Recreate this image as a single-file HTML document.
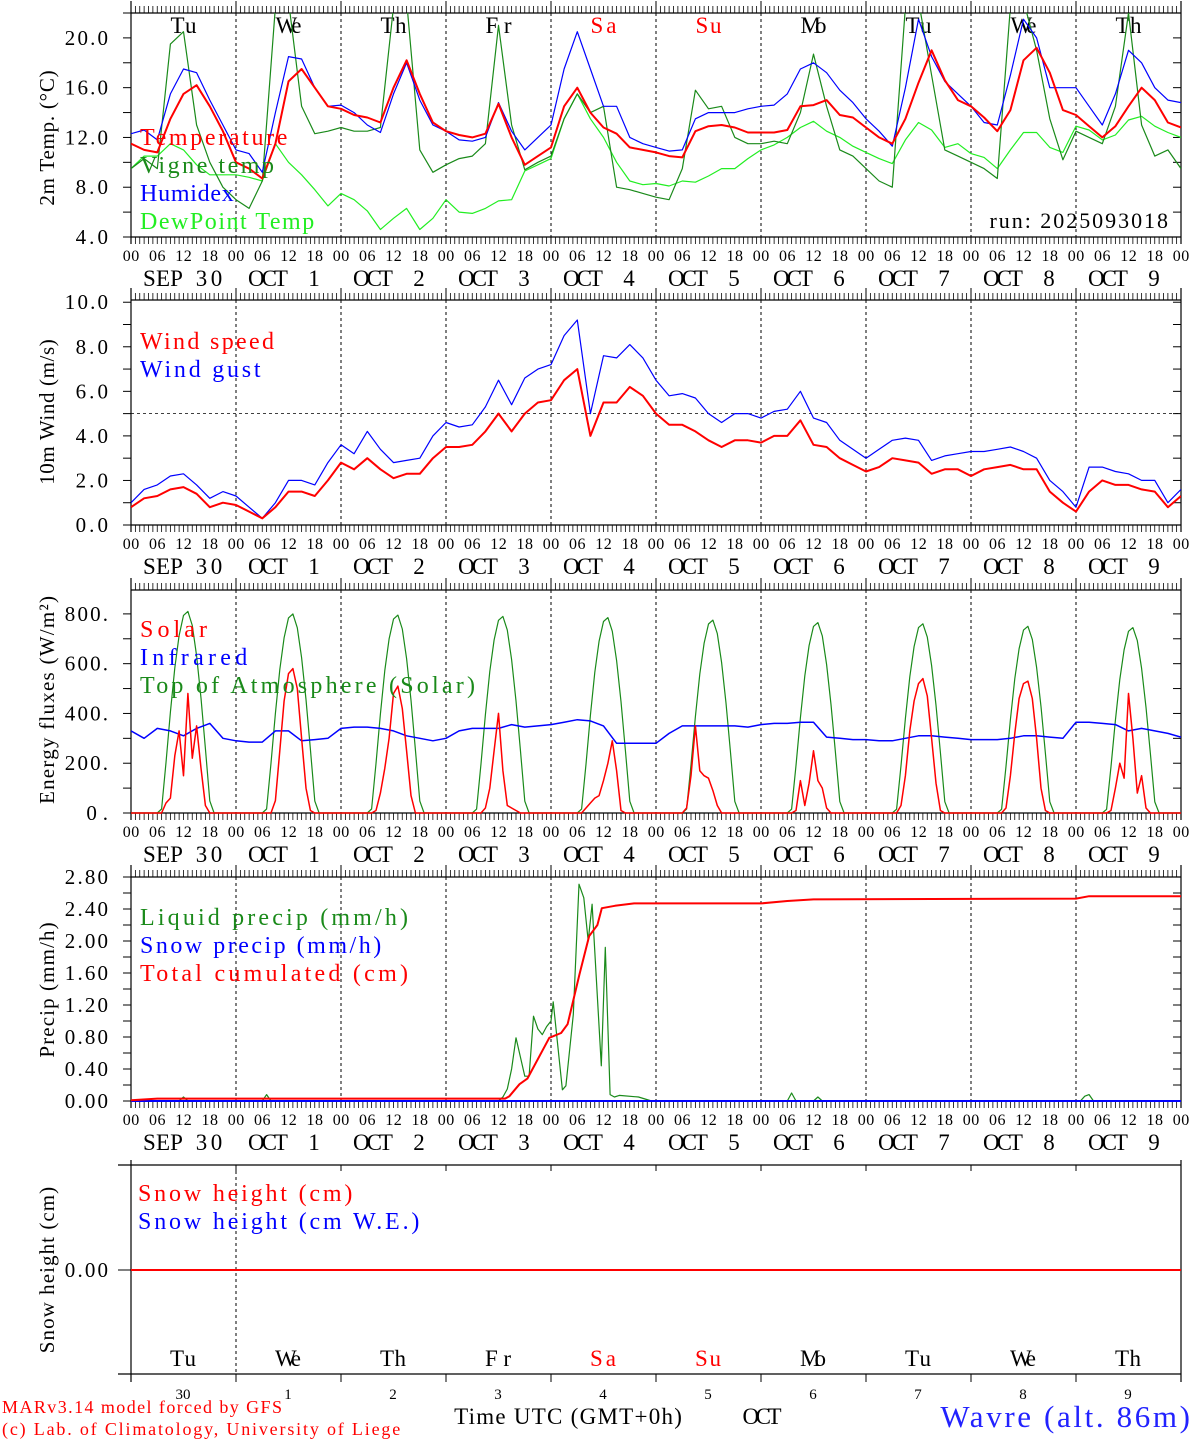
<!DOCTYPE html>
<html><head><meta charset="utf-8">
<style>
html,body{margin:0;padding:0;background:#fff;}
svg{display:block;font-family:"Liberation Serif",serif;}
</style></head>
<body>
<svg id="chart" width="1194" height="1440" viewBox="0 0 1194 1440" xmlns="http://www.w3.org/2000/svg"></svg>
<script>
// ---------- DATA (3-hourly, hour 0..240) ----------
const dayNames = ["Tu","We","Th","Fr","Sa","Su","Mo","Tu","We","Th"];
const dayNums = ["30","1","2","3","4","5","6","7","8","9"];
const dayMonths = ["SEP","OCT","OCT","OCT","OCT","OCT","OCT","OCT","OCT","OCT"];
const hourTicks = ["00","06","12","18"];
const tempVals = [11.5,11.0,10.8,13.5,15.5,16.2,14.5,12.5, 10.0,9.5,8.7,11.5,16.5,17.5,16.0,14.5, 14.3,13.8,13.6,13.2,16.0,18.2,15.5,13.2, 12.5,12.2,12.0,12.3,14.7,12.0,9.8,10.5, 11.2,14.5,16.0,14.0,12.8,12.3,11.2,11.0, 10.8,10.5,10.4,12.5,12.9,13.0,12.8,12.4, 12.4,12.4,12.6,14.5,14.6,15.0,13.8,13.6, 12.8,12.0,11.5,13.5,16.4,19.0,16.6,15.0, 14.5,13.6,12.5,14.2,18.2,19.2,17.2,14.2, 13.8,12.9,12.0,12.9,14.5,16.0,15.0,13.2, 12.8];
const humidexVals = [12.3,12.6,11.8,15.5,17.5,17.2,15.0,13.0, 11.0,10.7,9.2,14.0,18.5,18.3,16.0,14.5, 14.6,14.0,13.0,12.4,15.5,18.0,15.0,13.0, 12.5,11.8,11.7,12.0,14.8,12.5,11.0,12.0, 13.0,17.5,20.5,17.5,14.5,14.5,12.0,11.5, 11.2,10.9,11.0,13.5,14.0,14.0,14.0,14.3, 14.5,14.6,15.5,17.5,18.0,17.2,15.8,14.8, 13.5,12.5,11.3,16.0,21.5,18.5,16.5,15.5, 14.5,13.2,13.0,17.0,21.5,20.0,16.0,16.0, 16.0,14.5,13.0,15.5,19.0,18.0,16.0,15.0, 14.8];
const vigneVals = [9.5,10.3,9.5,19.5,20.5,13.0,10.0,8.0, 7.0,6.3,8.5,22.5,23,14.5,12.3,12.5, 12.8,12.5,12.5,12.8,22.5,23,11.0,9.2, 9.8,10.3,10.5,11.5,21.0,13.0,9.4,10.0, 10.5,13.5,15.5,14.0,14.5,8.0,7.8,7.5, 7.2,7.0,9.5,15.8,14.3,14.5,12.0,11.5, 11.5,11.7,11.5,14.0,18.7,14.5,11.0,10.5, 9.5,8.5,8.0,22.5,23,17.0,11.0,10.5, 10.0,9.5,8.7,22.5,23,19.0,13.5,10.2, 12.5,12.0,11.5,14.5,22,13,10.5,11.0, 9.5];
const dewVals = [9.5,10.5,10.5,11.5,11.0,9.8,9.0,9.0, 9.0,8.8,8.5,11.5,10.0,9.0,7.8,6.5, 7.5,7.0,6.1,4.6,5.5,6.3,4.6,5.5, 7.0,6.0,5.9,6.3,6.9,7.0,9.3,9.8, 10.3,13.5,15.5,13.5,12.0,10.0,8.5,8.2, 8.3,8.1,8.5,8.4,8.9,9.5,9.5,10.3, 11.0,11.4,12.0,12.8,13.3,12.5,12.0,11.3, 10.8,10.3,9.9,11.8,13.2,12.6,11.2,11.5, 10.7,10.4,9.5,11.0,12.4,12.4,11.2,10.8, 12.9,12.6,11.8,12.2,13.4,13.7,12.9,12.4, 12.0];
const windVals = [0.8,1.2,1.3,1.6,1.7,1.4,0.8,1.0, 0.9,0.6,0.3,0.8,1.5,1.5,1.3,2.0, 2.8,2.5,3.0,2.5,2.1,2.3,2.3,3.0, 3.5,3.5,3.6,4.2,5.0,4.2,5.0,5.5, 5.6,6.5,7.0,4.0,5.5,5.5,6.2,5.8, 5.0,4.5,4.5,4.2,3.8,3.5,3.8,3.8, 3.7,4.0,4.0,4.7,3.6,3.5,3.0,2.7, 2.4,2.6,3.0,2.9,2.8,2.3,2.5,2.5, 2.2,2.5,2.6,2.7,2.5,2.5,1.5,1.0, 0.6,1.5,2.0,1.8,1.8,1.6,1.5,0.8, 1.3];
const gustVals = [1.0,1.6,1.8,2.2,2.3,1.8,1.2,1.5, 1.3,0.8,0.3,1.0,2.0,2.0,1.8,2.8, 3.6,3.2,4.2,3.4,2.8,2.9,3.0,4.0, 4.6,4.4,4.5,5.3,6.5,5.4,6.6,7.0, 7.2,8.5,9.2,5.0,7.6,7.5,8.1,7.5, 6.5,5.8,5.9,5.7,5.0,4.6,5.0,5.0, 4.8,5.1,5.2,6.0,4.8,4.6,3.8,3.4, 3.0,3.4,3.8,3.9,3.8,2.9,3.1,3.2, 3.3,3.3,3.4,3.5,3.3,3.0,2.0,1.5, 0.8,2.6,2.6,2.4,2.3,2.0,2.0,1.0, 1.6];
const irVals = [330,300,340,330,310,340,360,300, 290,285,285,330,330,290,295,300, 340,345,345,340,330,310,300,290, 300,330,340,340,340,355,345,350, 355,365,375,370,350,280,280,280, 280,320,350,350,350,350,350,345, 355,360,360,365,365,305,300,295, 295,290,290,300,310,310,305,300, 295,295,295,300,310,310,305,300, 365,365,360,355,330,340,330,320, 305];
// hourly solar per day, hours 6..19
const solarHours = [6,7,8,9,10,11,12,13,14,15,16,17,18,19];
const solarDay0 = [0,0,40,60,230,330,150,480,220,350,180,30,0,0];
const solarDay1 = [0,0,0,50,250,450,560,580,500,300,100,10,0,0];
const solarDay2 = [0,0,10,80,180,300,480,510,420,250,70,0,0,0];
const solarDay3 = [0,0,0,20,100,250,400,170,30,20,10,0,0,0];
const solarDay4 = [0,0,20,40,60,70,130,200,290,170,10,0,0,0];
const solarDay5 = [0,20,150,350,170,150,140,90,30,0,0,0,0,0];
const solarDay6 = [0,0,10,130,30,120,250,130,100,20,0,0,0,0];
const solarDay7 = [0,0,30,150,330,450,520,540,470,300,120,10,0,0];
const solarDay8 = [0,0,20,150,320,460,520,530,460,300,100,10,0,0];
const solarDay9 = [0,0,10,100,200,140,480,300,80,150,20,0,0,0];
const toaPeak = [810,800,795,790,785,775,765,760,750,745];
const toaProfile = [0,0.02,0.25,0.5,0.72,0.88,0.98,1.0,0.93,0.78,0.57,0.32,0.06,0];
// precipitation (irregular times in hours)
const liqT = [0,11,12,13,30,31,32,60,84,85,86,87,88,89,90,91,92,93,94,95,96,96.5,98.6,99.4,101.1,102.4,103.5,104.5,105.4,107.5,108.4,109.5,110.5,111.6,116,119,150,151,152,156,157,158,217,218,219,220,240];
const liqV = [0,0,0.05,0,0,0.08,0,0,0,0.05,0.15,0.4,0.79,0.55,0.31,0.31,1.06,0.9,0.83,0.93,1.0,1.24,0.14,0.19,1.08,2.71,2.54,2.0,2.46,0.44,1.92,0.08,0.05,0.07,0.05,0.0,0,0.1,0,0,0.05,0,0,0.06,0.08,0,0];
const cumT = [0,6,84,85.5,86.5,88.8,90.6,95.6,98.3,99.8,102.5,104.7,106.6,107.6,110.6,115,118.8,144,150,156,216,219,240];
const cumV = [0.01,0.03,0.03,0.03,0.06,0.21,0.28,0.79,0.85,0.96,1.58,2.06,2.2,2.41,2.44,2.47,2.47,2.47,2.5,2.52,2.53,2.56,2.56];
const snowHeight = [0,0];

// ---------- LAYOUT ----------
const svg = document.getElementById('chart');
const NS = 'http://www.w3.org/2000/svg';
const X0 = 131, X1 = 1181;
function x(h){ return X0 + h*(X1-X0)/240; }
function add(tag, attrs, name, parent){
  const e = document.createElementNS(NS, tag);
  for (const k in attrs) e.setAttribute(k, attrs[k]);
  
  
  (parent||svg).appendChild(e);
  return e;
}
function txt(s, xx, yy, opts, name){
  const a = {x:xx, y:yy, 'font-size':opts.size||18, fill:opts.fill||'#000', 'text-anchor':opts.anchor||'start'};
  if (opts.transform) a.transform = opts.transform;
  if (opts.cw){ a.textLength = (s.length*opts.cw).toFixed(1); a.lengthAdjust = 'spacing'; }
  const t = add('text', a, name);
  t.textContent = s;
  return t;
}
function line(x1,y1,x2,y2,stroke,w,name,dash){
  const a = {x1:x1,y1:y1,x2:x2,y2:y2,stroke:stroke,'stroke-width':w};
  if (dash) a['stroke-dasharray'] = dash;
  return add('line', a, name);
}
let clipId = 0;
function series(ts, vs, ys, color, w, name, top, bottom){
  const id = 'clip' + (clipId++);
  const cp = add('clipPath', {id:id}, name + '-clip');
  add('rect', {x:X0, y:top, width:X1-X0, height:bottom-top}, name + '-clip-rect', cp);
  const pts = ts.map((t,i)=> x(t).toFixed(1)+','+ys(vs[i]).toFixed(1)).join(' ');
  return add('polyline', {points:pts, fill:'none', stroke:color, 'stroke-width':w, 'clip-path':'url(#'+id+')', 'stroke-linejoin':'round'}, name);
}
const t3 = tempVals.map((_,i)=>i*3);
const LEG = {size:24, cw:13.4};

function panelFrame(top, bottom, pname, showDashed){
  line(X0, top, X1, top, '#000', 1.2, pname+'-top-axis');
  line(X0, bottom, X1, bottom, '#000', 1.2, pname+'-bottom-axis');
  line(X0, top-12, X0, bottom+7, '#000', 1.2, pname+'-left-axis');
  line(X1, top-12, X1, bottom+7, '#000', 1.2, pname+'-right-axis');
  for (let h=1; h<240; h++){
    if (h%24===0){
      line(x(h), top-12, x(h), top, '#000', 1, pname+'-day-tick-top');
      line(x(h), bottom, x(h), bottom+7, '#000', 1, pname+'-day-tick-bottom');
      if (showDashed) line(x(h), top, x(h), bottom, '#000', 1, pname+'-day-divider', '3,3');
    } else {
      line(x(h), top-7, x(h), top, '#000', 0.8, pname+'-hour-tick-top');
      line(x(h), bottom, x(h), bottom+7, '#000', 0.8, pname+'-hour-tick-bottom');
    }
  }
  for (let d=0; d<=10; d++){
    for (let k=0;k<4;k++){
      if (d===10 && k>0) break;
      txt(hourTicks[k], x(d*24+k*6), bottom+24, {size:16, anchor:'middle', cw:8.3}, pname+'-hour-label');
    }
    if (d<10){
      txt(dayMonths[d], x(d*24)+32, bottom+49, {size:23, anchor:'middle', cw:13.3}, pname+'-month-label');
      txt(dayNums[d], x(d*24)+78, bottom+49, {size:23, anchor:'middle', cw:13.3}, pname+'-day-label');
    }
  }
}
function yAxis(top,bottom,vmin,vmax,labels,minorStep,title,titleY,pname){
  const ys = v => bottom - (v-vmin)/(vmax-vmin)*(bottom-top);
  for (let v=vmin; v<=vmax+1e-9; v+=minorStep){
    line(X0-8, ys(v), X0, ys(v), '#000', 1, pname+'-y-tick');
    line(X1-8, ys(v), X1, ys(v), '#000', 1, pname+'-y-tick-right');
  }
  labels.forEach(l => txt(l[1], 108, ys(l[0])+7, {size:21, anchor:'end', cw:10.8}, pname+'-y-label'));
  txt(title, 54, titleY, {size:21, anchor:'middle', cw:10.4, transform:'rotate(-90 54 '+titleY+')'}, pname+'-y-axis-title');
  return ys;
}

// ---------- PANEL 1: temperature ----------
panelFrame(13, 237, 'temp-panel', true);
const yT = yAxis(13, 237, 4, 22, [[4,'4.0'],[8,'8.0'],[12,'12.0'],[16,'16.0'],[20,'20.0']], 2, '2m Temp. (\u00B0C)', 138, 'temp-panel');
dayNames.forEach((n,d)=> txt(n, x(d*24+12), 33, {size:23, anchor:'middle', cw:13, fill:(d===4||d===5)?'#ff0000':'#000'}, 'weekday-label'));
series(t3, dewVals, yT, '#22ee22', 1.2, 'dewpoint-line', 13, 237);
series(t3, vigneVals, yT, '#1a8a1a', 1.2, 'vigne-temp-line', 13, 237);
series(t3, humidexVals, yT, '#0000ff', 1.2, 'humidex-line', 13, 237);
series(t3, tempVals, yT, '#ff0000', 2, 'temperature-line', 13, 237);
txt('Temperature', 140, 145, Object.assign({fill:'#ff0000'},LEG), 'legend-temperature');
txt('Vigne temp', 140, 173, Object.assign({fill:'#1a8a1a'},LEG), 'legend-vigne-temp');
txt('Humidex', 140, 201, Object.assign({fill:'#0000ff'},LEG), 'legend-humidex');
txt('DewPoint Temp', 140, 229, Object.assign({fill:'#22ee22'},LEG), 'legend-dewpoint');
txt('run: 2025093018', 1168, 228, {size:22, anchor:'end', cw:11.9}, 'run-label');

// ---------- PANEL 2: wind ----------
panelFrame(300, 525, 'wind-panel', true);
const yW = yAxis(300, 525, 0, 10.1, [[0,'0.0'],[2,'2.0'],[4,'4.0'],[6,'6.0'],[8,'8.0'],[10,'10.0']], 1, '10m Wind (m/s)', 412, 'wind-panel');
line(X0, yW(5), X1, yW(5), '#000', 0.8, 'wind-5ms-reference', '3,3');
series(t3, gustVals, yW, '#0000ff', 1.2, 'wind-gust-line', 300, 525);
series(t3, windVals, yW, '#ff0000', 2, 'wind-speed-line', 300, 525);
txt('Wind speed', 140, 349, Object.assign({fill:'#ff0000'},LEG), 'legend-wind-speed');
txt('Wind gust', 140, 377, Object.assign({fill:'#0000ff'},LEG), 'legend-wind-gust');

// ---------- PANEL 3: energy ----------
panelFrame(590, 813, 'energy-panel', true);
const yE = yAxis(590, 813, 0, 896, [[0,'0.'],[200,'200.'],[400,'400.'],[600,'600.'],[800,'800.']], 100, 'Energy fluxes (W/m\u00B2)', 700, 'energy-panel');
const solarDays = [solarDay0,solarDay1,solarDay2,solarDay3,solarDay4,solarDay5,solarDay6,solarDay7,solarDay8,solarDay9];
const toaT=[0], toaV=[0], solT=[0], solV=[0];
for (let d=0; d<10; d++){
  solarHours.forEach((h,i)=>{
    toaT.push(d*24+h); toaV.push(toaPeak[d]*toaProfile[i]);
    solT.push(d*24+h); solV.push(solarDays[d][i]);
  });
}
toaT.push(240); toaV.push(0); solT.push(240); solV.push(0);
series(toaT, toaV, yE, '#1a8a1a', 1.2, 'toa-solar-line', 590, 815);
series(t3, irVals, yE, '#0000ff', 1.5, 'infrared-line', 590, 815);
series(solT, solV, yE, '#ff0000', 1.5, 'solar-line', 590, 815);
txt('Solar', 140, 637, Object.assign({fill:'#ff0000'},LEG), 'legend-solar');
txt('Infrared', 140, 665, Object.assign({fill:'#0000ff'},LEG), 'legend-infrared');
txt('Top of Atmosphere (Solar)', 140, 693, Object.assign({fill:'#1a8a1a'},LEG), 'legend-toa');

// ---------- PANEL 4: precipitation ----------
panelFrame(877, 1101, 'precip-panel', true);
const yP = yAxis(877, 1101, 0, 2.8, [[0,'0.00'],[0.4,'0.40'],[0.8,'0.80'],[1.2,'1.20'],[1.6,'1.60'],[2.0,'2.00'],[2.4,'2.40'],[2.8,'2.80']], 0.2, 'Precip (mm/h)', 990, 'precip-panel');
series(liqT, liqV, yP, '#1a8a1a', 1.2, 'liquid-precip-line', 870, 1103);
series([0,240], snowHeight, yP, '#0000ff', 2, 'snow-precip-line', 870, 1103);
series(cumT, cumV, yP, '#ff0000', 2, 'cumulated-precip-line', 870, 1103);
txt('Liquid precip (mm/h)', 140, 925, Object.assign({fill:'#1a8a1a'},LEG), 'legend-liquid-precip');
txt('Snow precip (mm/h)', 140, 953, Object.assign({fill:'#0000ff'},LEG), 'legend-snow-precip');
txt('Total cumulated (cm)', 140, 981, Object.assign({fill:'#ff0000'},LEG), 'legend-total-cumulated');

// ---------- PANEL 5: snow height ----------
line(118, 1165, X1, 1165, '#000', 1.2, 'snow-panel-top-axis');
line(118, 1374, X1, 1374, '#000', 1.2, 'snow-panel-bottom-axis');
line(X0, 1160, X0, 1382, '#000', 1.2, 'snow-panel-left-axis');
line(X1, 1160, X1, 1382, '#000', 1.2, 'snow-panel-right-axis');
for (let d=1; d<10; d++){
  line(x(d*24), 1165, x(d*24), 1171, '#000', 1, 'snow-panel-day-tick-top');
  line(x(d*24), 1374, x(d*24), 1382, '#000', 1, 'snow-panel-day-tick-bottom');
}
line(x(24), 1165, x(24), 1374, '#000', 1, 'snow-panel-day-divider', '3,3');
const yS = v => 1270 - v*100;
line(118, 1270, X0, 1270, '#000', 1, 'snow-panel-y-tick');
txt('0.00', 108, 1277, {size:21, anchor:'end', cw:10.8}, 'snow-panel-y-label');
txt('Snow height (cm)', 54, 1270, {size:21, anchor:'middle', cw:10.4, transform:'rotate(-90 54 1270)'}, 'snow-panel-y-axis-title');
series([0,240], snowHeight, yS, '#0000ff', 2, 'snow-height-we-line', 1165, 1374);
series([0,240], snowHeight, yS, '#ff0000', 2, 'snow-height-line', 1165, 1374);
txt('Snow height (cm)', 138, 1201, Object.assign({fill:'#ff0000'},LEG), 'legend-snow-height');
txt('Snow height (cm W.E.)', 138, 1229, Object.assign({fill:'#0000ff'},LEG), 'legend-snow-height-we');
dayNames.forEach((n,d)=> txt(n, x(d*24)+52, 1366, {size:23, anchor:'middle', cw:13, fill:(d===4||d===5)?'#ff0000':'#000'}, 'bottom-weekday-label'));
dayNums.forEach((n,d)=> txt(n, x(d*24)+52, 1399, {size:15, anchor:'middle', cw:7.5}, 'bottom-day-number'));

// ---------- FOOTER ----------
txt('MARv3.14 model forced by GFS', 2, 1413, {size:18, cw:10, fill:'#ff0000'}, 'model-credit');
txt('(c) Lab. of Climatology, University of Liege', 2, 1435, {size:18, cw:9.05, fill:'#ff0000'}, 'lab-credit');
txt('Time UTC (GMT+0h)', 568, 1424, {size:23, anchor:'middle', cw:13.4}, 'x-axis-title');
txt('OCT', 762, 1424, {size:23, anchor:'middle', cw:13}, 'month-title');
txt('Wavre (alt. 86m)', 1190, 1427, {size:31, anchor:'end', cw:15.6, fill:'#2222ff'}, 'location-title');
</script>
</body></html>
